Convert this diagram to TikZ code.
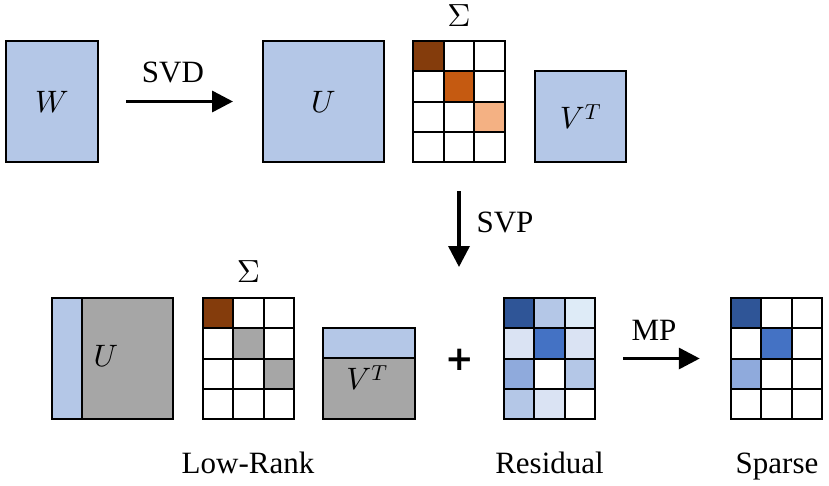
\documentclass[tikz,border=0pt]{standalone}
\usepackage[no-math]{fontspec}
\setmainfont{Liberation Serif}
\newfontfamily\plusfont{DejaVu Sans}
\DeclareFontShape{OT1}{cmr}{m}{n}{<->cmr10}{}
\DeclareFontShape{OML}{cmm}{m}{it}{<->cmmi10}{}
\usepackage{tikz}
\usetikzlibrary{arrows.meta, calc, positioning}

\definecolor{matblue}{HTML}{B4C7E7}
\definecolor{matgray}{HTML}{A6A6A6}
\definecolor{sv1}{HTML}{843C0C}
\definecolor{sv2}{HTML}{C55A11}
\definecolor{sv3}{HTML}{F4B183}
\definecolor{rb1}{HTML}{2F5597}
\definecolor{rb2}{HTML}{4472C4}
\definecolor{rb3}{HTML}{8FAADC}
\definecolor{rb4}{HTML}{B4C7E7}
\definecolor{rb5}{HTML}{DAE3F3}
\definecolor{rb6}{HTML}{DEEBF7}

\tikzset{
  mat/.style={draw, line width=2pt, fill=matblue, inner sep=0pt, outer sep=0pt},
  gridbox/.style={minimum width=91.5pt, minimum height=121pt, inner sep=0pt, outer sep=0pt},
  cell/.style={draw, line width=2pt},
  flow/.style={line width=3.5pt, -{Triangle[length=21pt,width=21pt]}},
  siglab/.style={inner sep=0pt, anchor=base, font=\fontsize{32}{38}\selectfont},
}

% 4x3 grid of cells, filled row by row
\newcommand{\cellgrid}[2]{%
  \foreach \fc [count=\i from 0] in {#2} {
    \pgfmathtruncatemacro{\rr}{div(\i,3)}
    \pgfmathtruncatemacro{\cc}{mod(\i,3)}
    \draw[cell, fill=\fc] ($(#1.north west)+(\cc*30.5,\rr*30.25)$) rectangle ++(30.5,30.25);
  }}

\begin{document}
\begin{tikzpicture}[x=1pt, y=-1pt, font=\fontsize{31}{37}\selectfont]
        \useasboundingbox (0,0) rectangle (829,485);

        % top row
        \node[mat, minimum width=92pt, minimum height=121pt] (w) at (52,101.5) {$W$};
        \node[mat, minimum width=121pt, minimum height=121pt] (u1) at (323.5,101.5) {$U$};
        \node[gridbox] (s1) at (459,101.5) {};
        \node[mat, minimum width=91pt, minimum height=91pt] (vt1) at (580.5,116.5) {$V^T$};
        \cellgrid{s1}{sv1,white,white, white,sv2,white, white,white,sv3, white,white,white}
        \node[siglab] (s1lab) at (459,26) {$\Sigma$};
        \node[anchor=base] (svd) at (173,82) {SVD};

        % bottom row
        \node[mat, fill=matgray, minimum width=121pt, minimum height=121pt] (u2) at (112.5,358.5) {};
        \draw[cell, fill=matblue] (u2.north west) rectangle ($(u2.south west)+(30,0)$);
        \node (u2lab) at (106,356) {$U$};
        \node[gridbox] (s2) at (248.5,358.5) {};
        \cellgrid{s2}{sv1,white,white, white,matgray,white, white,white,matgray, white,white,white}
        \node[siglab] (s2lab) at (248.5,282) {$\Sigma$};
        \node[mat, fill=matgray, minimum width=92pt, minimum height=91pt] (vt2) at (369,373.5) {};
        \draw[cell, fill=matblue] (vt2.north west) rectangle ($(vt2.north east)+(0,30)$);
        \node (vt2lab) at (367,378) {$V^T$};
        \node[font=\plusfont\bfseries\fontsize{34}{40}\selectfont] (plus) at (460,360) {+};
        \node[gridbox] (res) at (549.5,358.5) {};
        \cellgrid{res}{rb1,rb4,rb6, rb5,rb2,rb5, rb3,white,rb4, rb4,rb5,white}
        \node[gridbox] (sp) at (776.5,358.5) {};
        \cellgrid{sp}{rb1,white,white, white,rb2,white, rb3,white,white, white,white,white}
        \node[anchor=base] (mp) at (654,340) {MP};
        \node[anchor=base] (svp) at (505,232) {SVP};

        \node[anchor=base] (lowrank) at (248,473) {Low-Rank};
        \node[anchor=base] (resid) at (549.5,473) {Residual};
        \node[anchor=base] (sparse) at (777,473) {Sparse};

        \coordinate (svpend) at (459,267);
        \draw[flow, shorten <=28pt, shorten >=30pt] (w) to (u1);
        \draw[flow, shorten <=29pt] (s1) to (svpend);
        \draw[flow, shorten <=28pt, shorten >=31pt] (res) to (sp);
    \end{tikzpicture}
\end{document}
